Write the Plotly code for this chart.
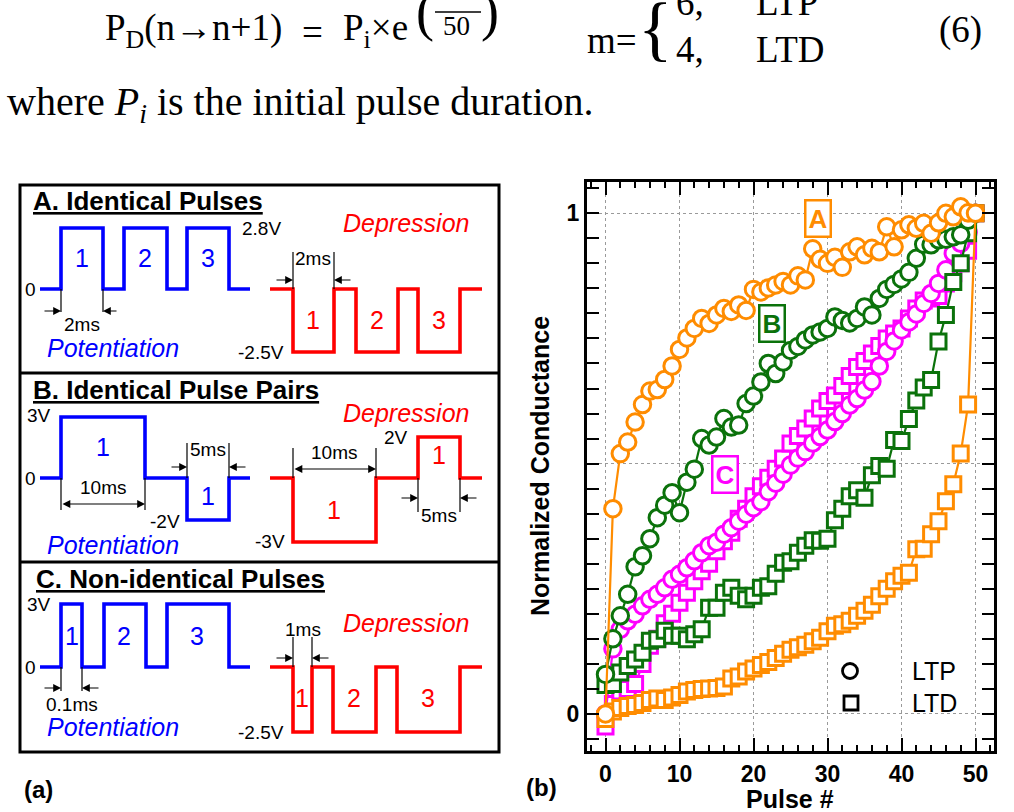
import plotly.graph_objects as go

W, H = 1014, 812

# ---------------- data (panel b) ----------------
pulse = list(range(51))
ltp_A = [0.0, 0.41, 0.52, 0.543, 0.583, 0.618, 0.645, 0.648, 0.668, 0.695,
         0.728, 0.751, 0.77, 0.79, 0.78, 0.797, 0.81, 0.804, 0.817, 0.806,
         0.848, 0.843, 0.851, 0.857, 0.864, 0.857, 0.875, 0.867, 0.929, 0.908,
         0.9, 0.912, 0.892, 0.923, 0.933, 0.917, 0.93, 0.923, 0.973, 0.933,
         0.967, 0.977, 0.97, 0.98, 0.96, 0.981, 1.0, 0.993, 1.013, 1.001, 1.0]
ltd_A = [-0.01, 0.005, 0.012, 0.016, 0.018, 0.022, 0.028, 0.031, 0.028, 0.033,
         0.038, 0.045, 0.048, 0.05, 0.051, 0.052, 0.055, 0.071, 0.075, 0.085,
         0.091, 0.098, 0.104, 0.112, 0.12, 0.128, 0.133, 0.138, 0.145, 0.152,
         0.165, 0.176, 0.179, 0.186, 0.196, 0.206, 0.218, 0.235, 0.25, 0.265,
         0.276, 0.282, 0.329, 0.33, 0.359, 0.385, 0.425, 0.459, 0.52, 0.618, 1.0]
ltp_B = [0.079, 0.15, 0.196, 0.239, 0.294, 0.316, 0.35, 0.392, 0.417, 0.442,
         0.402, 0.463, 0.489, 0.55, 0.537, 0.553, 0.59, 0.573, 0.577, 0.62,
         0.635, 0.663, 0.7, 0.68, 0.703, 0.726, 0.734, 0.747, 0.757, 0.763,
         0.77, 0.793, 0.786, 0.781, 0.79, 0.813, 0.797, 0.83, 0.848, 0.858,
         0.869, 0.882, 0.91, 0.938, 0.937, 0.947, 0.948, 0.953, 0.957, 0.986, 1.0]
ltd_B = [0.058, 0.06, 0.083, 0.096, 0.109, 0.122, 0.146, 0.149, 0.166, 0.156,
         0.156, 0.149, 0.159, 0.169, 0.212, 0.212, 0.242, 0.252, 0.236, 0.229,
         0.236, 0.252, 0.255, 0.28, 0.302, 0.305, 0.322, 0.336, 0.347, 0.346,
         0.35, 0.387, 0.41, 0.435, 0.447, 0.432, 0.477, 0.495, 0.49, 0.547,
         0.545, 0.589, 0.626, 0.652, 0.667, 0.744, 0.797, 0.863, 0.9, 0.96, 1.0]
ltp_C = [0.0, 0.13, 0.169, 0.186, 0.199, 0.216, 0.229, 0.239, 0.252, 0.269,
         0.279, 0.292, 0.306, 0.322, 0.336, 0.343, 0.359, 0.372, 0.385, 0.399,
         0.412, 0.424, 0.444, 0.461, 0.479, 0.497, 0.511, 0.524, 0.541, 0.554,
         0.567, 0.584, 0.6, 0.617, 0.63, 0.647, 0.664, 0.695, 0.724, 0.745,
         0.767, 0.783, 0.799, 0.82, 0.84, 0.86, 0.887, 0.92, 0.94, 0.962, 1.0]
ltd_C = [-0.025, 0.02, 0.045, 0.05, 0.06, 0.1, 0.136, 0.15, 0.181, 0.2,
         0.222, 0.242, 0.265, 0.285, 0.3, 0.325, 0.345, 0.362, 0.39, 0.41,
         0.435, 0.455, 0.472, 0.49, 0.51, 0.54, 0.555, 0.57, 0.59, 0.61,
         0.625, 0.636, 0.655, 0.675, 0.693, 0.705, 0.72, 0.735, 0.75, 0.76,
         0.77, 0.79, 0.81, 0.826, 0.83, 0.835, 0.86, 0.88, 0.9, 0.925, 1.0]

x_tickvals = [0, 10, 20, 30, 40, 50]
x_ticktext = ['0', '10', '20', '30', '40', '50']
y_tickvals = [0, 0.5, 1]
y_ticktext = ['0', '', '1']
labels_abc = [('A', 28.7, 0.989), ('B', 22.5, 0.779), ('C', 16.1, 0.479)]

ORANGE = '#FF8C00'
GREEN = '#0B720B'
MAGENTA = '#FF00FF'
BLUE = '#0000FF'
RED = '#FF0000'
SANS = 'Liberation Sans'
SERIF = 'Liberation Serif'

# ---------------- schematic waveforms (panel a, page pixel layout) ----------------
# (x_start, x_end, baseline, [(edge_on, edge_off, level), ...], colour)
waves = [
    (40, 250, 289, [(61, 103, 228), (124, 167, 228), (187, 229, 228)], BLUE),
    (270, 482, 289, [(293, 334, 352), (356, 398, 352), (418, 460, 352)], RED),
    (40, 250, 478, [(61, 145, 417), (187, 229, 520)], BLUE),
    (270, 482, 478, [(293, 376, 542), (418, 460, 437)], RED),
    (40, 250, 667, [(61, 82, 604), (104, 146, 604), (167, 229, 604)], BLUE),
    (270, 482, 667, [(293, 312, 732), (333, 376, 732), (397, 460, 732)], RED),
]

fig = go.Figure()

for x0, x1, base, pulses, col in waves:
    xs, ys = [x0], [base]
    for a, b, lvl in pulses:
        xs += [a, a, b, b]
        ys += [base, lvl, lvl, base]
    xs.append(x1)
    ys.append(base)
    fig.add_trace(go.Scatter(x=xs, y=ys, xaxis='x', yaxis='y', mode='lines',
                             line=dict(color=col, width=3.6), hoverinfo='skip',
                             showlegend=False))

# legend symbols
fig.add_trace(go.Scatter(x=[850], y=[671], xaxis='x', yaxis='y', mode='markers',
                         marker=dict(symbol='circle', size=15, color='white',
                                     line=dict(color='black', width=2.8)), showlegend=False))
fig.add_trace(go.Scatter(x=[851], y=[703], xaxis='x', yaxis='y', mode='markers',
                         marker=dict(symbol='square', size=14, color='white',
                                     line=dict(color='black', width=2.8)), showlegend=False))

series = [(ltd_C, 'square', MAGENTA), (ltp_C, 'circle', MAGENTA),
          (ltd_B, 'square', GREEN), (ltp_B, 'circle', GREEN),
          (ltd_A, 'square', ORANGE), (ltp_A, 'circle', ORANGE)]
for vals, sym, col in series:
    fig.add_trace(go.Scatter(
        x=pulse, y=vals, xaxis='x2', yaxis='y2', mode='lines+markers',
        line=dict(color=col, width=2.2),
        marker=dict(symbol=sym, size=16.5 if sym == 'circle' else 15, color='white',
                    line=dict(color=col, width=3)),
        showlegend=False, cliponaxis=False))

ann = []
shapes = []


def txt(x, y, s, size=19, color='black', bold=False, italic=False, family=SANS,
        xanchor='center', under=False, ref='x'):
    f = dict(family=family, size=size, color=color)
    if bold:
        f['weight'] = 'bold'
    if italic:
        f['style'] = 'italic'
    if under:
        f['lineposition'] = 'under'
    ann.append(dict(x=x, y=y, xref=ref, yref=ref.replace('x', 'y'), text=s,
                    showarrow=False, font=f, xanchor=xanchor, yanchor='middle'))


def vline(x, y0, y1):
    shapes.append(dict(type='line', xref='x', yref='y', x0=x, x1=x, y0=y0, y1=y1,
                       line=dict(color='black', width=1.2)))


def arrow(xt, xh, y, both=False):
    d = dict(x=xh, y=y, ax=xt, ay=y, xref='x', yref='y', axref='x', ayref='y',
             text='', showarrow=True, arrowhead=2, arrowsize=1.3, arrowwidth=1.2,
             arrowcolor='black')
    if both:
        d['arrowside'] = 'end+start'
    ann.append(d)


# panel (a) frame
shapes.append(dict(type='rect', xref='x', yref='y', x0=20, x1=499, y0=185, y1=752,
                   line=dict(color='black', width=3)))
for yy in (373, 562):
    shapes.append(dict(type='line', xref='x', yref='y', x0=20, x1=499, y0=yy, y1=yy,
                       line=dict(color='black', width=3)))

# titles
txt(31, 201, 'A. Identical Pulses', size=26, bold=True, xanchor='left', under=True)
txt(31, 390, 'B. Identical Pulse Pairs', size=26, bold=True, xanchor='left', under=True)
txt(34, 579, 'C. Non-identical Pulses', size=26, bold=True, xanchor='left', under=True)

# panel A labels
txt(30, 289, '0')
txt(240, 228, '2.8V', xanchor='left')
txt(261, 352, '-2.5V')
for xx, s in [(82, '1'), (145, '2'), (208, '3')]:
    txt(xx, 258, s, size=25, color=BLUE)
for xx, s in [(313, '1'), (377, '2'), (439, '3')]:
    txt(xx, 320, s, size=25, color=RED)
txt(45, 348, 'Potentiation', size=25, color=BLUE, italic=True, xanchor='left')
txt(341, 223, 'Depression', size=25, color=RED, italic=True, xanchor='left')
vline(61, 289, 312); vline(103, 289, 312)
arrow(43, 61, 311); arrow(118, 103, 311)
txt(82, 324, '2ms')
vline(293, 252, 289); vline(334, 252, 289)
arrow(275, 293, 280); arrow(352, 334, 280)
txt(313, 258, '2ms')

# panel B labels
txt(39, 415, '3V')
txt(30, 478, '0')
txt(165, 521, '-2V')
txt(103, 447, '1', size=25, color=BLUE)
txt(208, 496, '1', size=25, color=BLUE)
txt(270, 541, '-3V')
txt(396, 437, '2V')
txt(334, 510, '1', size=25, color=RED)
txt(439, 455, '1', size=25, color=RED)
txt(45, 545, 'Potentiation', size=25, color=BLUE, italic=True, xanchor='left')
txt(341, 413, 'Depression', size=25, color=RED, italic=True, xanchor='left')
vline(61, 478, 510); vline(145, 478, 510)
arrow(61, 145, 504, both=True)
txt(103, 487, '10ms')
vline(187, 443, 478); vline(229, 443, 478)
arrow(170, 187, 467); arrow(247, 229, 467)
txt(208, 449, '5ms')
vline(293, 448, 478); vline(376, 448, 478)
arrow(293, 376, 469, both=True)
txt(334, 452, '10ms')
vline(418, 478, 512); vline(460, 478, 512)
arrow(400, 418, 498); arrow(478, 460, 498)
txt(439, 515, '5ms')

# panel C labels
txt(39, 604, '3V')
txt(30, 667, '0')
for xx, s in [(72, '1'), (124, '2'), (197, '3')]:
    txt(xx, 636, s, size=25, color=BLUE)
for xx, s in [(302, '1'), (354, '2'), (428, '3')]:
    txt(xx, 698, s, size=25, color=RED)
txt(261, 732, '-2.5V')
txt(45, 727, 'Potentiation', size=25, color=BLUE, italic=True, xanchor='left')
txt(341, 623, 'Depression', size=25, color=RED, italic=True, xanchor='left')
vline(61, 667, 691); vline(82, 667, 691)
arrow(43, 61, 688); arrow(100, 82, 688)
txt(72, 704, '0.1ms')
vline(293, 637, 667); vline(312, 637, 667)
arrow(275, 293, 658); arrow(330, 312, 658)
txt(303, 629, '1ms')

txt(38, 789, '(a)', size=24, bold=True)
txt(541, 787, '(b)', size=24, bold=True)

# panel b axis titles, legend text
txt(790, 799, 'Pulse #', size=25, bold=True)
ann.append(dict(x=540, y=466, xref='x', yref='y', text='Normalized Conductance',
                showarrow=False, textangle=-90,
                font=dict(family=SANS, size=25, color='black', weight='bold'),
                xanchor='center', yanchor='middle'))
txt(910, 671, 'LTP', size=25, xanchor='left')
txt(910, 703, 'LTD', size=25, xanchor='left')

for s, xx, yy in labels_abc:
    col = {'A': ORANGE, 'B': GREEN, 'C': MAGENTA}[s]
    ann.append(dict(x=xx, y=yy, xref='x2', yref='y2', text='<b>%s</b>' % s,
                    showarrow=False, font=dict(family=SANS, size=26, color=col),
                    bordercolor=col, borderwidth=2.5, borderpad=2, bgcolor='white',
                    xanchor='center', yanchor='middle'))

# top text (equation fragment)
txt(103, 30, 'P<sub>D</sub>(n→n+1)', size=37, family=SERIF, xanchor='left')
txt(300, 32, '=', size=37, family=SERIF, xanchor='left')
txt(341, 30, 'P<sub>i</sub>×e', size=37, family=SERIF, xanchor='left')
txt(414, 12, '(', size=54, family=SERIF, xanchor='left')
txt(457, -1, 'm×n', size=26, family=SERIF)
txt(456, 26, '50', size=27, family=SERIF)
shapes.append(dict(type='line', xref='x', yref='y', x0=435, x1=481, y0=12, y1=12,
                   line=dict(color='black', width=1.6)))
txt(479, 12, ')', size=54, family=SERIF, xanchor='left')
txt(585, 40, 'm=', size=37, family=SERIF, xanchor='left')
txt(636, 28, '{', size=72, family=SERIF, xanchor='left')
txt(674, 2, '6,', size=37, family=SERIF, xanchor='left')
txt(754, 2, 'LTP', size=37, family=SERIF, xanchor='left')
txt(674, 49, '4,', size=37, family=SERIF, xanchor='left')
txt(754, 49, 'LTD', size=37, family=SERIF, xanchor='left')
txt(937, 30, '(6)', size=37, family=SERIF, xanchor='left')
txt(5, 104, 'where <i>P<sub>i</sub></i> is the initial pulse duration.', size=40,
    family=SERIF, xanchor='left')

tickfont = dict(family=SANS, size=23, color='black', weight='bold')
fig.update_layout(
    width=W, height=H, margin=dict(l=0, r=0, t=0, b=0),
    paper_bgcolor='white', plot_bgcolor='rgba(0,0,0,0)', showlegend=False,
    xaxis=dict(domain=[0, 1], range=[0, W], visible=False, fixedrange=True),
    yaxis=dict(domain=[0, 1], range=[H, 0], visible=False, fixedrange=True),
    xaxis2=dict(domain=[587 / W, 994 / W], anchor='y2', range=[-2.5, 52.5],
                tickmode='array', tickvals=x_tickvals, ticktext=x_ticktext,
                ticks='inside', ticklen=13, tickwidth=2, tickcolor='black',
                showline=True, linewidth=3, linecolor='black', mirror='allticks',
                showgrid=True, gridcolor='#9a9a9a', griddash='dot', gridwidth=1,
                zeroline=False, tickfont=tickfont,
                minor=dict(tickmode='linear', tick0=0, dtick=2, ticklen=6, tickwidth=2,
                           tickcolor='black', ticks='inside', showgrid=False)),
    yaxis2=dict(domain=[1 - 751 / H, 1 - 182 / H], anchor='x2', range=[-0.074, 1.0625],
                tickmode='array', tickvals=y_tickvals, ticktext=y_ticktext,
                ticks='inside', ticklen=12, tickwidth=2, tickcolor='black',
                showline=True, linewidth=3, linecolor='black', mirror='allticks',
                showgrid=True, gridcolor='#9a9a9a', griddash='dot', gridwidth=1,
                zeroline=False, tickfont=tickfont,
                minor=dict(tickmode='linear', tick0=0, dtick=0.05, ticklen=12, tickwidth=2,
                           tickcolor='black', ticks='inside', showgrid=False)),
    annotations=ann, shapes=shapes,
)

fig.write_html('out.html')
